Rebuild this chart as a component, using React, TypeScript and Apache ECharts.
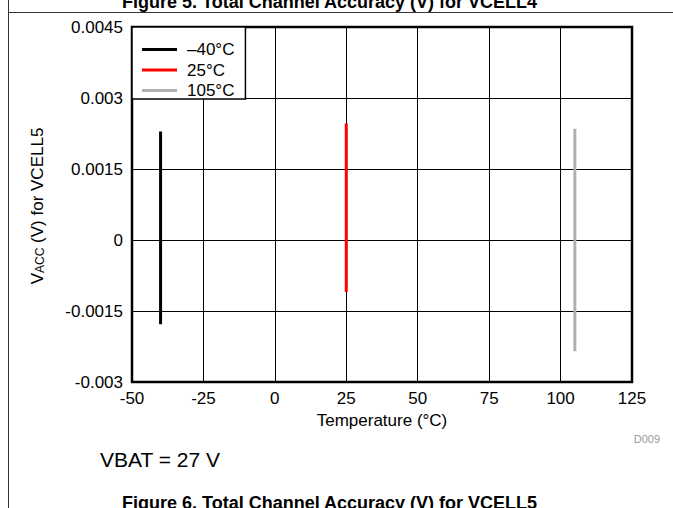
import React, { useEffect, useRef } from "react";
import * as echarts from "echarts";

const temperatures = [-40, 25, 105];
const seriesNames = ["–40°C", "25°C", "105°C"];
const maxAccuracy = [0.00229, 0.00246, 0.00235];
const minAccuracy = [-0.00178, -0.0011, -0.00235];
const seriesColors = ["#000000", "#ff0000", "#b0b0b0"];

const xTicks = [-50, -25, 0, 25, 50, 75, 100, 125];
const yTicks = [-0.003, -0.0015, 0, 0.0015, 0.003, 0.0045];

const FONT = "'Liberation Sans', Arial, sans-serif";

export default function App() {
  const ref = useRef<HTMLDivElement>(null);
  useEffect(() => {
    if (!ref.current) return;
    const chart = echarts.init(ref.current, undefined, { renderer: "svg" });
    const series = temperatures.map((t, i) => ({
      name: seriesNames[i],
      type: "line",
      data: [
        [t, maxAccuracy[i]],
        [t, minAccuracy[i]],
      ],
      symbol: "none",
      lineStyle: { color: seriesColors[i], width: 3 },
      itemStyle: { color: seriesColors[i] },
      z: 5,
    }));
    chart.setOption({
      animation: false,
      backgroundColor: "#ffffff",
      textStyle: { fontFamily: FONT },
      grid: {
        left: 132,
        right: 41,
        top: 27,
        bottom: 126,
        show: true,
        borderColor: "#000",
        borderWidth: 2.5,
        backgroundColor: "transparent",
      },
      legend: {
        orient: "vertical",
        left: 132,
        top: 27,
        padding: [14, 11, 0, 10],
        itemGap: 3.5,
        itemWidth: 35,
        itemHeight: 3,
        icon: "rect",
        backgroundColor: "#fff",
        borderColor: "#000",
        borderWidth: 1.5,
        textStyle: { fontSize: 17, color: "#000", fontFamily: FONT, lineHeight: 17, padding: [0, 0, 0, 5] },
        data: seriesNames,
        z: 10,
      },
      xAxis: {
        type: "value",
        min: xTicks[0],
        max: xTicks[xTicks.length - 1],
        interval: 25,
        name: "Temperature (°C)",
        nameLocation: "middle",
        nameGap: 28,
        nameTextStyle: { fontSize: 17, color: "#000", fontFamily: FONT },
        axisLine: { show: false },
        axisTick: { show: false },
        axisLabel: { fontSize: 17, color: "#000", margin: 8, fontFamily: FONT },
        splitLine: { show: true, lineStyle: { color: "#000", width: 1 } },
      },
      yAxis: {
        type: "value",
        min: yTicks[0],
        max: yTicks[yTicks.length - 1],
        interval: 0.0015,
        axisLine: { show: false },
        axisTick: { show: false },
        axisLabel: {
          fontSize: 17,
          color: "#000",
          margin: 9,
          fontFamily: FONT,
          formatter: (v: number) => String(parseFloat(v.toFixed(4))),
        },
        splitLine: { show: true, lineStyle: { color: "#000", width: 1 } },
      },
      graphic: [
        { type: "line", shape: { x1: 8.5, y1: 0, x2: 8.5, y2: 508 }, style: { stroke: "#333", lineWidth: 1 } },
        { type: "line", shape: { x1: 8, y1: 12.5, x2: 673, y2: 12.5 }, style: { stroke: "#333", lineWidth: 1 } },
        {
          type: "text",
          x: 122,
          y: 11,
          style: {
            text: "Figure 5. Total Channel Accuracy (V) for VCELL4",
            font: "bold 18px " + FONT,
            fill: "#000",
            textAlign: "left",
            textVerticalAlign: "bottom",
          },
        },
        {
          type: "text",
          x: 122,
          y: 494,
          style: {
            text: "Figure 6. Total Channel Accuracy (V) for VCELL5",
            font: "bold 18px " + FONT,
            fill: "#000",
            textAlign: "left",
            textVerticalAlign: "top",
          },
        },
        {
          type: "text",
          x: 100,
          y: 459,
          style: {
            text: "VBAT = 27 V",
            font: "21px " + FONT,
            fill: "#000",
            textAlign: "left",
            textVerticalAlign: "middle",
          },
        },
        {
          type: "text",
          x: 660,
          y: 439,
          style: {
            text: "D009",
            font: "11px " + FONT,
            fill: "#999",
            textAlign: "right",
            textVerticalAlign: "middle",
          },
        },
        {
          type: "text",
          x: 36,
          y: 206,
          rotation: Math.PI / 2,
          style: {
            text: "{a|V}{b|ACC}{a| (V) for VCELL5}",
            textAlign: "center",
            textVerticalAlign: "middle",
            rich: {
              a: { fontSize: 17, fontFamily: FONT, fill: "#000", lineHeight: 20, verticalAlign: "bottom" },
              b: { fontSize: 12, fontFamily: FONT, fill: "#000", lineHeight: 20, verticalAlign: "bottom" },
            },
          },
        },
      ],
      series,
    });
    return () => chart.dispose();
  }, []);
  return <div ref={ref} style={{ position: "fixed", left: 0, top: 0, width: 673, height: 508 }} />;
}
